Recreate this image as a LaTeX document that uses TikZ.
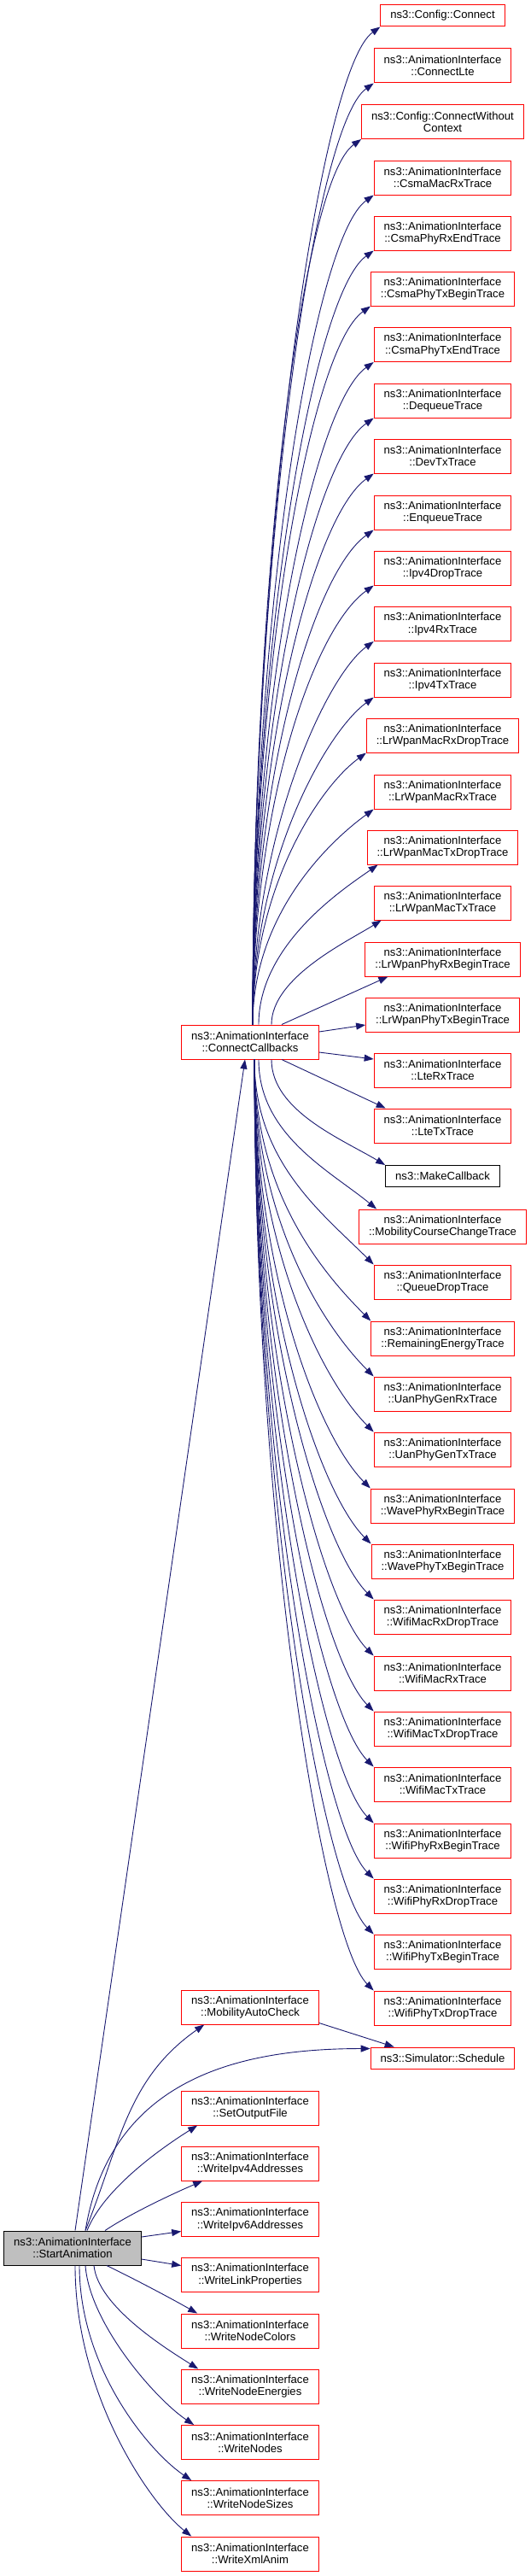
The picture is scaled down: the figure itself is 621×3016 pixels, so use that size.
\documentclass[tikz,border=0pt]{standalone}
\usepackage{fontspec}
\setmainfont{Liberation Sans}
\usetikzlibrary{arrows.meta}
\definecolor{edgeblue}{HTML}{191970}
\definecolor{fnred}{HTML}{FF0000}

\begin{document}
\begin{tikzpicture}[x = 1pt, y = -1pt,
  fn/.style = {draw = fnred, line width = 1pt, align = center, inner xsep = 11.5pt, inner ysep = 2pt,
    minimum height = 40pt, font = \fontsize{13.1}{14.3}\selectfont},
  fnone/.style = {fn, minimum height = 25pt},
  call/.style = {draw = edgeblue, line width = 0.9pt, -{Triangle[length = 11pt, width = 8pt]}}]

\useasboundingbox (0,0) rectangle (621,3016);

\node [fn, draw = black, fill = gray!50] (v1) at (85,2632) {ns3::AnimationInterface\\::StartAnimation};
\node [fn] (v2) at (293,1220) {ns3::AnimationInterface\\::ConnectCallbacks};

\node [fnone] (v3) at (518.5,18.5) {ns3::Config::Connect};
\node [fn] (v4) at (518.5,77) {ns3::AnimationInterface\\::ConnectLte};
\node [fn] (v5) at (518.5,142.5) {ns3::Config::ConnectWithout\\Context};
\node [fn] (v6) at (518.5,208) {ns3::AnimationInterface\\::CsmaMacRxTrace};
\node [fn] (v7) at (518.5,273) {ns3::AnimationInterface\\::CsmaPhyRxEndTrace};
\node [fn] (v8) at (518.5,338) {ns3::AnimationInterface\\::CsmaPhyTxBeginTrace};
\node [fn] (v9) at (518.5,403.5) {ns3::AnimationInterface\\::CsmaPhyTxEndTrace};
\node [fn] (v10) at (518.5,469) {ns3::AnimationInterface\\::DequeueTrace};
\node [fn] (v11) at (518.5,534) {ns3::AnimationInterface\\::DevTxTrace};
\node [fn] (v12) at (518.5,600) {ns3::AnimationInterface\\::EnqueueTrace};
\node [fn] (v13) at (518.5,665) {ns3::AnimationInterface\\::Ipv4DropTrace};
\node [fn] (v14) at (518.5,730.5) {ns3::AnimationInterface\\::Ipv4RxTrace};
\node [fn] (v15) at (518.5,796) {ns3::AnimationInterface\\::Ipv4TxTrace};
\node [fn] (v16) at (518.5,861) {ns3::AnimationInterface\\::LrWpanMacRxDropTrace};
\node [fn] (v17) at (518.5,927) {ns3::AnimationInterface\\::LrWpanMacRxTrace};
\node [fn] (v18) at (518.5,992) {ns3::AnimationInterface\\::LrWpanMacTxDropTrace};
\node [fn] (v19) at (518.5,1057) {ns3::AnimationInterface\\::LrWpanMacTxTrace};
\node [fn] (v20) at (518.5,1123) {ns3::AnimationInterface\\::LrWpanPhyRxBeginTrace};
\node [fn] (v21) at (518.5,1188) {ns3::AnimationInterface\\::LrWpanPhyTxBeginTrace};
\node [fn] (v22) at (518.5,1253) {ns3::AnimationInterface\\::LteRxTrace};
\node [fn] (v23) at (518.5,1318) {ns3::AnimationInterface\\::LteTxTrace};
\node [fnone, draw = black] (v24) at (518.5,1377) {ns3::MakeCallback};
\node [fn] (v25) at (518.5,1436) {ns3::AnimationInterface\\::MobilityCourseChangeTrace};
\node [fn] (v26) at (518.5,1501) {ns3::AnimationInterface\\::QueueDropTrace};
\node [fn] (v27) at (518.5,1567) {ns3::AnimationInterface\\::RemainingEnergyTrace};
\node [fn] (v28) at (518.5,1632) {ns3::AnimationInterface\\::UanPhyGenRxTrace};
\node [fn] (v29) at (518.5,1697) {ns3::AnimationInterface\\::UanPhyGenTxTrace};
\node [fn] (v30) at (518.5,1763) {ns3::AnimationInterface\\::WavePhyRxBeginTrace};
\node [fn] (v31) at (518.5,1828) {ns3::AnimationInterface\\::WavePhyTxBeginTrace};
\node [fn] (v32) at (518.5,1893) {ns3::AnimationInterface\\::WifiMacRxDropTrace};
\node [fn] (v33) at (518.5,1959) {ns3::AnimationInterface\\::WifiMacRxTrace};
\node [fn] (v34) at (518.5,2024) {ns3::AnimationInterface\\::WifiMacTxDropTrace};
\node [fn] (v35) at (518.5,2089) {ns3::AnimationInterface\\::WifiMacTxTrace};
\node [fn] (v36) at (518.5,2155) {ns3::AnimationInterface\\::WifiPhyRxBeginTrace};
\node [fn] (v37) at (518.5,2220) {ns3::AnimationInterface\\::WifiPhyRxDropTrace};
\node [fn] (v38) at (518.5,2285) {ns3::AnimationInterface\\::WifiPhyTxBeginTrace};
\node [fn] (v39) at (518.5,2351) {ns3::AnimationInterface\\::WifiPhyTxDropTrace};

\node [fn] (v40) at (293,2350) {ns3::AnimationInterface\\::MobilityAutoCheck};
\node [fnone] (v41) at (518.5,2409.5) {ns3::Simulator::Schedule};

\node [fn] (v42) at (293,2468) {ns3::AnimationInterface\\::SetOutputFile};
\node [fn] (v43) at (293,2533) {ns3::AnimationInterface\\::WriteIpv4Addresses};
\node [fn] (v44) at (293,2598.5) {ns3::AnimationInterface\\::WriteIpv6Addresses};
\node [fn] (v45) at (293,2663.5) {ns3::AnimationInterface\\::WriteLinkProperties};
\node [fn] (v46) at (293,2729) {ns3::AnimationInterface\\::WriteNodeColors};
\node [fn] (v47) at (293,2794) {ns3::AnimationInterface\\::WriteNodeEnergies};
\node [fn] (v48) at (293,2859.5) {ns3::AnimationInterface\\::WriteNodes};
\node [fn] (v49) at (293,2924.5) {ns3::AnimationInterface\\::WriteNodeSizes};
\node [fn] (v50) at (293,2990) {ns3::AnimationInterface\\::WriteXmlAnim};



% calls from ConnectCallbacks, upwards
\draw [call] ([xshift=3pt]v2.north) .. controls +(0,-585) and +(-70,50) .. (v3.south west);
\draw [call] ([xshift=3pt]v2.north) .. controls +(0,-552) and +(-70,50) .. (v4.south west);
\draw [call] ([xshift=3pt]v2.north) .. controls +(0,-519) and +(-70,50) .. (v5.south west);
\draw [call] ([xshift=3pt]v2.north) .. controls +(0,-486) and +(-70,50) .. (v6.south west);
\draw [call] ([xshift=3pt]v2.north) .. controls +(0,-454) and +(-70,50) .. (v7.south west);
\draw [call] ([xshift=3pt]v2.north) .. controls +(0,-421) and +(-70,50) .. (v8.south west);
\draw [call] ([xshift=3pt]v2.north) .. controls +(0,-388) and +(-70,50) .. (v9.south west);
\draw [call] ([xshift=3pt]v2.north) .. controls +(0,-356) and +(-70,50) .. (v10.south west);
\draw [call] ([xshift=3pt]v2.north) .. controls +(0,-323) and +(-70,50) .. (v11.south west);
\draw [call] ([xshift=3pt]v2.north) .. controls +(0,-290) and +(-70,50) .. (v12.south west);
\draw [call] ([xshift=3pt]v2.north) .. controls +(0,-258) and +(-70,50) .. (v13.south west);
\draw [call] ([xshift=3pt]v2.north) .. controls +(0,-225) and +(-55,40) .. (v14.south west);
\draw [call] ([xshift=3pt]v2.north) .. controls +(0,-192) and +(-55,40) .. (v15.south west);
\draw [call] ([xshift=3pt]v2.north) .. controls +(0,-160) and +(-55,40) .. (v16.south west);
\draw [call] ([xshift=3pt]v2.north) .. controls +(0,-127) and +(-55,40) .. (v17.south west);
\draw [call] ([xshift=10pt]v2.north) .. controls +(0,-94) and +(-40,28) .. ([xshift=13pt]v18.south west);
\draw [call] ([xshift=25pt]v2.north) .. controls +(0,-55) and +(-40,25) .. ([xshift=9pt]v19.south west);
\draw [call] ([xshift=37pt]v2.north) -- ([xshift=27pt]v20.south west);
\draw [call] ([yshift=12pt]v2.east) -- ([yshift=-12pt]v21.west);

% calls from ConnectCallbacks, downwards
\draw [call] ([yshift=-12pt]v2.east) -- ([yshift=13pt]v22.west);
\draw [call] ([xshift=37pt]v2.south) -- ([xshift=14pt]v23.north west);
\draw [call] ([xshift=25pt]v2.south) .. controls +(0,60) and +(-50,-30) .. (v24.north west);
\draw [call] ([xshift=10pt]v2.south) .. controls +(0,88) and +(-55,-45) .. ([xshift=21pt]v25.north west);
\draw [call] ([xshift=5pt]v2.south) .. controls +(0,120) and +(-60,-60) .. (v26.north west);
\draw [call] ([xshift=5pt]v2.south) .. controls +(0,153) and +(-60,-60) .. (v27.north west);
\draw [call] ([xshift=5pt]v2.south) .. controls +(0,186) and +(-60,-60) .. (v28.north west);
\draw [call] ([xshift=5pt]v2.south) .. controls +(0,218) and +(-60,-60) .. (v29.north west);
\draw [call] ([xshift=5pt]v2.south) .. controls +(0,251) and +(-60,-60) .. (v30.north west);
\draw [call] ([xshift=5pt]v2.south) .. controls +(0,284) and +(-60,-60) .. (v31.north west);
\draw [call] ([xshift=5pt]v2.south) .. controls +(0,316) and +(-60,-60) .. (v32.north west);
\draw [call] ([xshift=5pt]v2.south) .. controls +(0,349) and +(-60,-60) .. (v33.north west);
\draw [call] ([xshift=5pt]v2.south) .. controls +(0,382) and +(-60,-60) .. (v34.north west);
\draw [call] ([xshift=5pt]v2.south) .. controls +(0,414) and +(-60,-60) .. (v35.north west);
\draw [call] ([xshift=5pt]v2.south) .. controls +(0,447) and +(-60,-60) .. (v36.north west);
\draw [call] ([xshift=5pt]v2.south) .. controls +(0,480) and +(-60,-60) .. (v37.north west);
\draw [call] ([xshift=5pt]v2.south) .. controls +(0,512) and +(-60,-60) .. (v38.north west);
\draw [call] ([xshift=5pt]v2.south) .. controls +(0,545) and +(-60,-60) .. (v39.north west);

% calls from StartAnimation
\draw [call] ([xshift=3pt]v1.north) -- ([xshift=-6pt]v2.south);
\draw [call] ([xshift=15pt]v1.north) .. controls +(41,-103) and +(-90,63) .. ([xshift=27pt]v40.south west);
\draw [call] ([xshift=15pt]v1.north) .. controls +(30,-180) and +(-150,0) .. ([yshift=11pt]v41.west);
\draw [call] ([yshift=2pt]v40.south east) -- ([xshift=28pt]v41.north west);
\draw [call] ([xshift=17pt]v1.north) .. controls +(20,-50) and +(-40,25) .. ([xshift=19pt]v42.south west);
\draw [call] ([xshift=38pt]v1.north) .. controls +(30,-20) and +(-35,15) .. ([xshift=25pt]v43.south west);
\draw [call] ([yshift=13pt]v1.east) -- ([yshift=-14pt]v44.west);
\draw [call] ([yshift=-13pt]v1.east) -- ([yshift=11pt]v45.west);
\draw [call] ([xshift=40pt]v1.south) .. controls +(25,12) and +(-35,-20) .. ([xshift=19pt]v46.north west);
\draw [call] ([xshift=25pt]v1.south) .. controls +(5,48) and +(-38,-24) .. ([xshift=20pt]v47.north west);
\draw [call] ([xshift=15pt]v1.south) .. controls +(5,68) and +(-45,-30) .. ([xshift=15pt]v48.north west);
\draw [call] ([xshift=8pt]v1.south) .. controls +(0,120) and +(-50,-34) .. ([xshift=12pt]v49.north west);
\draw [call] ([xshift=3pt]v1.south) .. controls +(0,150) and +(-50,-40) .. ([xshift=12pt]v50.north west);

\end{tikzpicture}
\end{document}
